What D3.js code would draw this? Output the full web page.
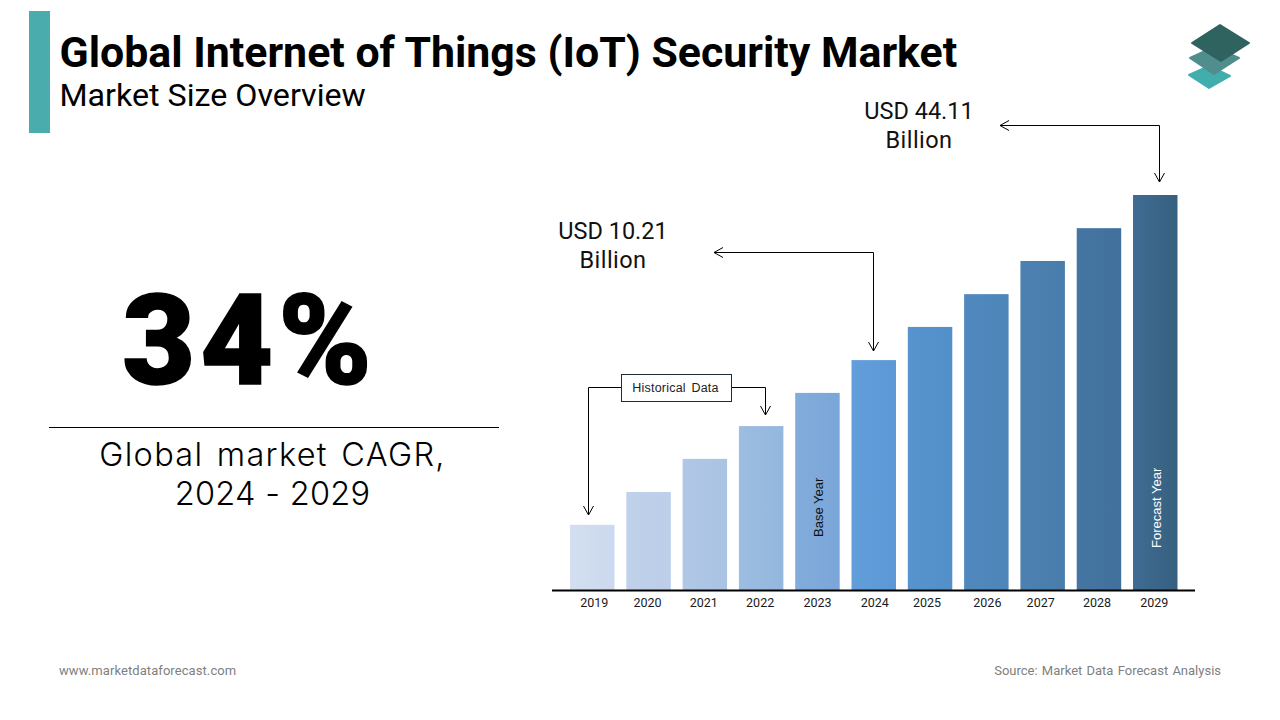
<!DOCTYPE html>
<html>
<head>
<meta charset="utf-8">
<script src="https://cdn.jsdelivr.net/npm/d3@7"></script>
<style>
  html, body { margin: 0; background: #fff; }
  svg { display: block; }
  text { font-family: Roboto, sans-serif; }
</style>
</head>
<body>
<svg id="chart" width="1280" height="720"></svg>
<script>
// bars have no printed values, so these are heights relative to the tallest bar
const years = ['2019', '2020', '2021', '2022', '2023', '2024', '2025', '2026', '2027', '2028', '2029'];
const barIndex = [16.5, 24.8, 33.2, 41.5, 49.9, 58.2, 66.6, 74.9, 83.3, 91.6, 100];
const barLeft = ['#d3dff0', '#c0d1ea', '#b0c7e6', '#9dbde1', '#82acdb', '#619eda', '#5794ce', '#5189bf', '#4c81b1', '#4576a3', '#3f6c94'];
const barRight = ['#cbd9ee', '#bccee8', '#abc3e3', '#94b7de', '#7aa6d8', '#5b98d5', '#538fc8', '#4d85b8', '#487cab', '#41709b', '#37607f'];
const labelNudge = [2, -1, -1, -1, 0, 1, -3, 1, -2, -2, -1];

const svg = d3.select('#chart');
const defs = svg.append('defs');

const x = d3.scaleBand().domain(years).range([570, 1177.5]).paddingInner(0.21).paddingOuter(0);
const y = d3.scaleLinear().domain([0, 100]).range([590, 195]);

// header
svg.append('rect').attr('x', 29).attr('y', 11).attr('width', 21).attr('height', 122).attr('fill', '#4bacad');
svg.append('text').attr('x', 59.5).attr('y', 67).attr('font-size', 42.85).attr('font-weight', 700).attr('fill', '#000').text('Global Internet of Things (IoT) Security Market');
svg.append('text').attr('x', 59.5).attr('y', 106).attr('font-size', 32.2).attr('fill', '#000').text('Market Size Overview');

// logo
const logo = [
  { fill: '#41adac', pts: [[1189, 75], [1209, 66], [1230, 76], [1209, 88]] },
  { fill: '#4f8e8c', pts: [[1190, 58], [1214, 47], [1239, 58], [1214, 74]] },
  { fill: '#2f635f', pts: [[1192, 43], [1220, 25], [1249, 43], [1221, 61]] }
];
svg.append('g').selectAll('polygon').data(logo).join('polygon')
  .attr('points', d => d.pts.join(' '))
  .attr('fill', d => d.fill)
  .attr('stroke', d => d.fill)
  .attr('stroke-width', 2)
  .attr('stroke-linejoin', 'round');

// left panel
svg.append('text').attr('x', 249.5).attr('y', 384).attr('text-anchor', 'middle')
  .attr('font-size', 126).attr('font-weight', 900).attr('letter-spacing', 5)
  .attr('fill', '#000').attr('stroke', '#000').attr('stroke-width', 1.5).text('34%');
svg.append('line').attr('x1', 49).attr('x2', 499).attr('y1', 427.5).attr('y2', 427.5).attr('stroke', '#000');
svg.append('text').attr('x', 272.5).attr('y', 466).attr('text-anchor', 'middle')
  .style('font-family', 'Inter, sans-serif').attr('font-size', 32.5).attr('font-weight', 300)
  .attr('letter-spacing', 1.3).attr('word-spacing', 3).attr('fill', '#000').text('Global market CAGR,');
svg.append('text').attr('x', 272.5).attr('y', 505).attr('text-anchor', 'middle')
  .style('font-family', 'Inter, sans-serif').attr('font-size', 32.5).attr('font-weight', 300)
  .attr('letter-spacing', 0.3).attr('fill', '#000').text('2024 - 2029');

// bars
years.forEach((yr, i) => {
  const g = defs.append('linearGradient').attr('id', 'bar' + yr);
  g.append('stop').attr('offset', 0).attr('stop-color', barLeft[i]);
  g.append('stop').attr('offset', 1).attr('stop-color', barRight[i]);
});
svg.append('g').selectAll('rect').data(years).join('rect')
  .attr('x', d => x(d))
  .attr('y', (d, i) => y(barIndex[i]))
  .attr('width', x.bandwidth())
  .attr('height', (d, i) => y(0) - y(barIndex[i]))
  .attr('fill', d => `url(#bar${d})`);

// axis
const axis = svg.append('g').attr('transform', `translate(0,${y(0)})`)
  .call(d3.axisBottom(x).tickSize(0).tickPadding(8));
axis.select('.domain').remove();
axis.selectAll('text')
  .attr('font-size', 12.5)
  .attr('dx', (d, i) => labelNudge[i])
  .attr('fill', '#1a1a1a');
svg.append('line').attr('x1', 552).attr('x2', 1195).attr('y1', y(0) + 0.5).attr('y2', y(0) + 0.5)
  .attr('stroke', '#000').attr('stroke-width', 2);

// text inside bars
const inBar = (yr, label, color, yEnd) => svg.append('text')
  .attr('transform', `translate(${x(yr) + x.bandwidth() / 2 + 6},${yEnd}) rotate(-90)`)
  .style('font-family', '"Liberation Sans", sans-serif')
  .attr('font-size', 13).attr('fill', color).text(label);
inBar('2023', 'Base Year', '#111', 537);
inBar('2029', 'Forecast Year', '#fff', 548);

// leaders with open arrow heads
const lineGen = d3.line();
const leader = pts => svg.append('path').attr('d', lineGen(pts)).attr('fill', 'none').attr('stroke', '#000').attr('stroke-width', 1);
const headDown = (hx, hy) => leader([[hx - 5, hy - 9], [hx, hy], [hx + 5, hy - 9]]);
const headLeft = (hx, hy) => leader([[hx + 9, hy - 5], [hx, hy], [hx + 9, hy + 5]]);

leader([[621, 387.5], [588.5, 387.5], [588.5, 515]]); headDown(588.5, 515);
leader([[731, 387.5], [765.5, 387.5], [765.5, 415]]); headDown(765.5, 415);
leader([[714, 252.5], [873.5, 252.5], [873.5, 351]]); headLeft(714, 252.5); headDown(873.5, 351);
leader([[1000, 125.5], [1159.5, 125.5], [1159.5, 182]]); headLeft(1000, 125.5); headDown(1159.5, 182);

svg.append('rect').attr('x', 621.5).attr('y', 374.5).attr('width', 110).attr('height', 27)
  .attr('fill', '#fff').attr('stroke', '#1d2b3a');
svg.append('text').attr('x', 675.5).attr('y', 392).attr('text-anchor', 'middle').attr('font-size', 12.5)
  .style('font-family', '"Liberation Sans", sans-serif')
  .attr('fill', '#222').attr('letter-spacing', 0.2).attr('word-spacing', 2).text('Historical Data');

// callouts
const callout = (cx, cy, l1, l2) => {
  svg.append('text').attr('x', cx).attr('y', cy).attr('text-anchor', 'middle').attr('font-size', 23.5).attr('fill', '#111').text(l1);
  svg.append('text').attr('x', cx).attr('y', cy + 29).attr('text-anchor', 'middle').attr('font-size', 23.5).attr('letter-spacing', 0.45).attr('fill', '#111').text(l2);
};
callout(613, 239, 'USD 10.21', 'Billion');
callout(919, 119, 'USD 44.11', 'Billion');

// footer
svg.append('text').attr('x', 59).attr('y', 675).attr('font-size', 13).attr('letter-spacing', 0.08).attr('fill', '#808080').text('www.marketdataforecast.com');
svg.append('text').attr('x', 1221).attr('y', 675).attr('text-anchor', 'end').attr('font-size', 13).attr('word-spacing', 1).attr('fill', '#808080').text('Source: Market Data Forecast Analysis');
</script>
</body>
</html>
